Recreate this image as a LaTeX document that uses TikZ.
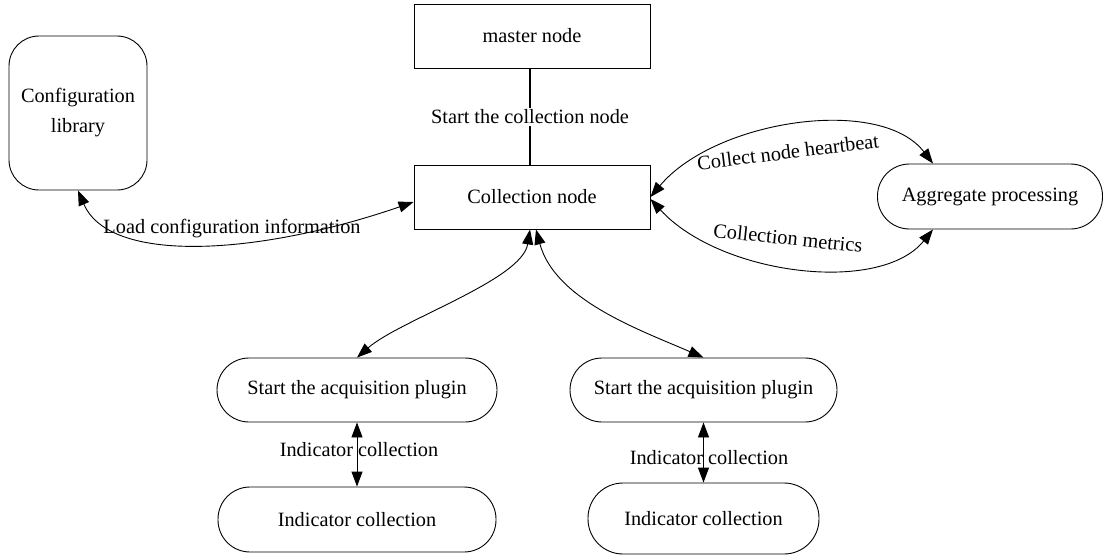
\documentclass[tikz,border=0pt]{standalone}
\usepackage{fontspec}
\setmainfont{Liberation Serif}
\usetikzlibrary{arrows.meta}
\begin{document}
\begin{tikzpicture}[x=1pt,y=-1pt,
  every node/.style={font=\fontsize{20.3}{24}\selectfont},
  box/.style={draw, line width=0.9pt, minimum width=236pt, minimum height=64pt, inner sep=0pt},
  pill/.style={draw, line width=0.9pt, inner sep=0pt},
  link/.style={line width=0.9pt, {Triangle[length=15pt,width=11pt]}-{Triangle[length=15pt,width=11pt]}},
  lbl/.style={inner sep=1pt}]
\useasboundingbox (0,0) rectangle (1103,558);

\node[box] (master) at (532,36) {master node};
\node[box] (coll) at (532,197) {Collection node};
\node[pill, rounded corners=30pt, minimum width=138pt, minimum height=154pt, align=center, font=\fontsize{20.3}{30}\selectfont] (cfg) at (78,113) {Configuration\\library};
\node[pill, rounded corners=32pt, minimum width=225pt, minimum height=65pt] (agg) at (990,196.5) {Aggregate processing};
\node[pill, rounded corners=32pt, minimum width=280pt, minimum height=64pt] (p1) at (357,390) {Start the acquisition plugin};
\node[pill, rounded corners=32pt, minimum width=278pt, minimum height=65pt] (i1) at (357,519.5) {Indicator collection};
\node[pill, rounded corners=32pt, minimum width=267pt, minimum height=64pt] (p2) at (703.5,390) {Start the acquisition plugin};
\node[pill, rounded corners=35pt, minimum width=231pt, minimum height=71pt] (i2) at (703.5,518.5) {Indicator collection};

% master -> collection
\node[fill=white, inner sep=2pt] (lstart) at (530,117) {Start the collection node};
\draw[line width=1.8pt] (master.south -| lstart) -- (lstart.north);
\draw[line width=1.8pt] (lstart.south) -- (coll.north -| lstart);

% config <-> collection
\draw[link] (cfg.south) .. controls (110,265) and (260,255) .. ([yshift=-5pt]coll.west);
\node[lbl] (lload) at (232,229) {Load configuration information};

% heartbeat
\draw[link] (coll.east) .. controls (715,120) and (880,95) .. ([xshift=-57pt]agg.north);
\node[lbl, rotate=7] (lheart) at (788,152) {Collect node heartbeat};

% metrics
\draw[link] ([yshift=-2pt]coll.east) .. controls (720,275) and (880,295) .. ([xshift=-57pt]agg.south);
\node[lbl, rotate=-6] (lmetric) at (788,238) {Collection metrics};

% collection <-> plugins
\draw[link] ([xshift=-2pt]coll.south) .. controls (522,280) and (400,320) .. (p1.north);
\draw[link] ([xshift=4pt]coll.south) .. controls (555,300) and (640,330) .. (p2.north);

% plugins <-> indicators
\draw[link] (p1.south) -- (i1.north);
\node[lbl] (li1) at (359,450) {Indicator collection};
\draw[link] (p2.south) -- (i2.north);
\node[lbl] (li2) at (709,458) {Indicator collection};
\end{tikzpicture}
\end{document}
